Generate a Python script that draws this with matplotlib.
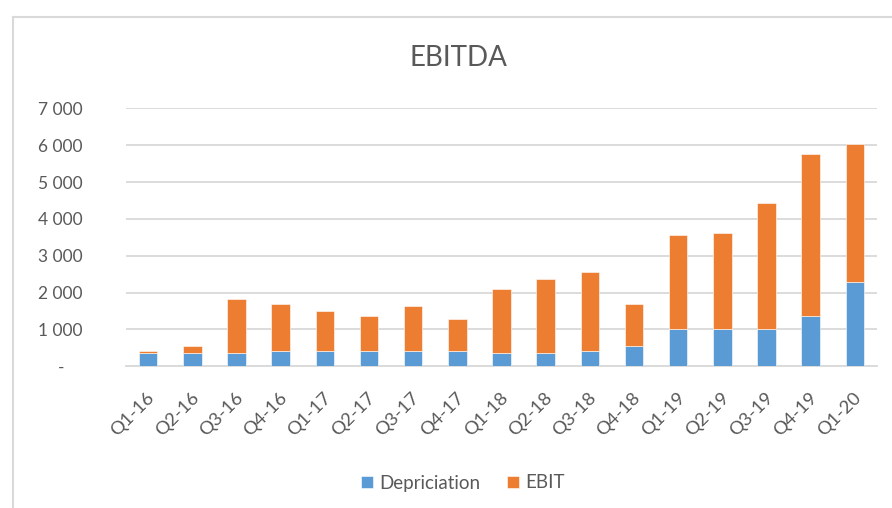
import matplotlib
matplotlib.use("Agg")
import matplotlib.pyplot as plt
import matplotlib.transforms as mtransforms
from matplotlib.lines import Line2D
from matplotlib.ticker import FuncFormatter, MultipleLocator

quarters = ["Q1-16", "Q2-16", "Q3-16", "Q4-16", "Q1-17", "Q2-17", "Q3-17", "Q4-17",
            "Q1-18", "Q2-18", "Q3-18", "Q4-18", "Q1-19", "Q2-19", "Q3-19", "Q4-19", "Q1-20"]
depreciation = [360, 360, 360, 410, 410, 410, 410, 410,
                352, 352, 410, 560, 1012, 1012, 1012, 1356, 2287]
ebitda_total = [415, 550, 1825, 1690, 1500, 1356, 1628, 1292,
                2089, 2360, 2550, 1690, 3554, 3625, 4422, 5768, 6031]
ebit = [t - d for t, d in zip(ebitda_total, depreciation)]

plt.rcParams['font.family'] = ['Lato', 'DejaVu Sans']

fig = plt.figure(figsize=(8.92, 5.08), dpi=100)
W, H = 892, 508
ax = fig.add_axes([126 / W, 1 - 366.3 / H, (877 - 126) / W, (366.3 - 108.3) / H])

blue = "#5B9BD5"
orange = "#ED7D31"
x = list(range(len(quarters)))
ax.bar(x, depreciation, width=0.42, color=blue, edgecolor="white", linewidth=0.4,
       label="Depriciation", zorder=3)
ax.bar(x, ebit, width=0.42, bottom=depreciation, color=orange, edgecolor="white",
       linewidth=0.4, label="EBIT", zorder=3)

ax.set_xlim(-0.5, len(quarters) - 0.5)
ax.set_ylim(0, 7000)
ax.yaxis.set_major_locator(MultipleLocator(1000))

def fmt(v, pos):
    if v == 0:
        return "-    "
    return f"{int(v):,}".replace(",", " ")

ax.yaxis.set_major_formatter(FuncFormatter(fmt))
ax.grid(axis="y", color="#d9d9d9", linewidth=1.3, zorder=0)
for s in ["top", "right", "left"]:
    ax.spines[s].set_visible(False)
ax.spines["bottom"].set_color("#d9d9d9")
ax.spines["bottom"].set_linewidth(1.3)
ax.tick_params(axis="y", length=0, pad=31, labelsize=12.5, labelcolor="#595959")
ax.tick_params(axis="x", length=0, pad=21, labelsize=13.3, labelcolor="#595959")
ax.set_xticks(x)
ax.set_xticklabels(quarters, rotation=45, ha="right", va="center", rotation_mode="anchor")
offset = mtransforms.ScaledTranslation(4 / 100, 0, fig.dpi_scale_trans)
for lbl in ax.get_xticklabels():
    lbl.set_transform(lbl.get_transform() + offset)

fig.text(458 / W, 1 - 58 / H, "EBITDA", ha="center", va="center", fontsize=20, color="#595959")

leg = fig.legend(loc="center", bbox_to_anchor=(463 / W, 1 - 483 / H), ncol=2, frameon=False,
                 fontsize=13.5, handlelength=0.65, handleheight=0.65, handletextpad=0.35,
                 columnspacing=1.4)
for t in leg.get_texts():
    t.set_color("#595959")

# chart border (top and left visible)
fig.add_artist(Line2D([13 / W, 13 / W], [0, 1 - 17 / H], transform=fig.transFigure,
                      color="#d9d9d9", linewidth=1.5))
fig.add_artist(Line2D([13 / W, 1], [1 - 17 / H, 1 - 17 / H], transform=fig.transFigure,
                      color="#d9d9d9", linewidth=1.5))

fig.savefig("out.png", dpi=100)
